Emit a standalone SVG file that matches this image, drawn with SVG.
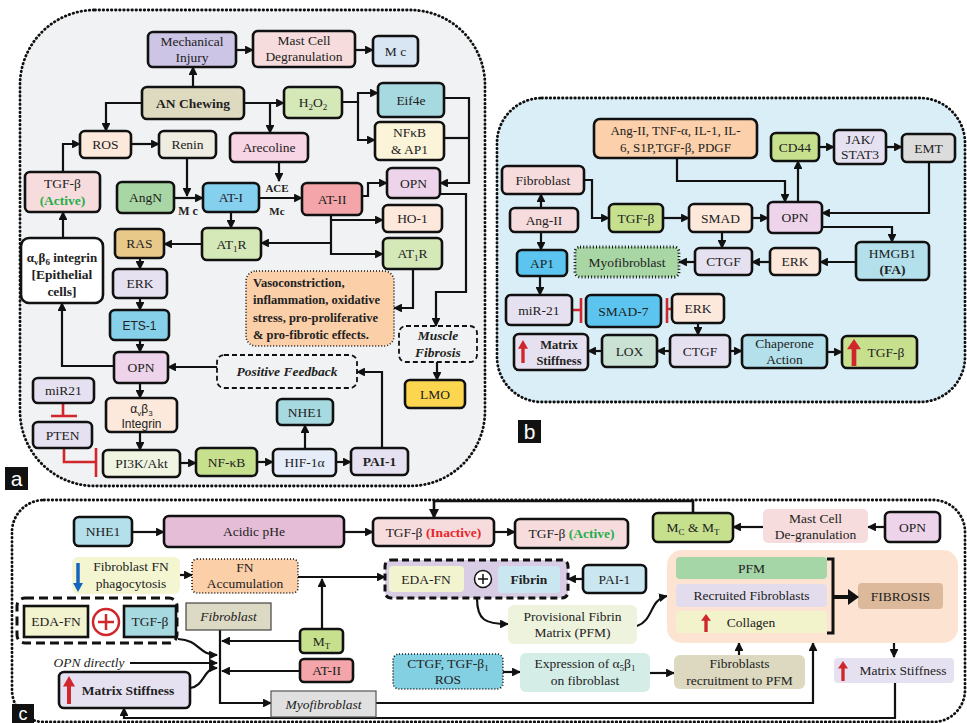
<svg xmlns="http://www.w3.org/2000/svg" width="967" height="723" viewBox="0 0 967 723">
<defs>
<style>
text{font-family:"Liberation Serif","Times New Roman","DejaVu Serif",serif;font-size:13.5px;fill:#222;text-anchor:middle}
.b{font-weight:bold}
.i{font-style:italic}
.s{font-family:"Liberation Sans",Arial,sans-serif}
.bx{stroke:#111;stroke-width:2.6}
.dt{stroke:#111;stroke-width:1.6;stroke-dasharray:1 2}
.ds{stroke:#111;stroke-width:1.8;stroke-dasharray:5 3;fill:none}
.pnl{stroke:#111;stroke-width:2.8;stroke-dasharray:0.5 3.6;stroke-linecap:round}
.c path{fill:none;stroke:#111;stroke-width:2.2}
.c path.a{marker-end:url(#ah)}
.c path.r{stroke:#d0262c;stroke-width:2.6}
.lbl text{font-family:"Liberation Sans",Arial,sans-serif;font-size:21px;fill:#fff}
</style>
<marker id="ah" viewBox="0 0 10 10" refX="9" refY="5" markerWidth="4" markerHeight="4" orient="auto"><path d="M0,0 L10,5 L0,10 z" fill="#111"/></marker>
<symbol id="up" viewBox="0 0 12 24" preserveAspectRatio="none"><path d="M6 0 L12 9 L8 9 L8 24 L4 24 L4 9 L0 9Z" fill="#d0262c"/></symbol>
</defs>

<!-- panels -->
<rect x="20" y="10" width="465" height="476" rx="75" fill="#f1f2f3" class="pnl"/>
<rect x="497" y="98" width="468" height="304" rx="45" fill="#d9eef6" class="pnl"/>
<rect x="12" y="500" width="953" height="222" rx="32" fill="#ffffff" class="pnl"/>
<g class="lbl">
<rect x="5" y="467" width="23" height="23" fill="#111"/><text x="16.5" y="486">a</text>
<rect x="518" y="420" width="23" height="23" fill="#111"/><text x="529.5" y="439">b</text>
<rect x="12" y="704" width="22" height="19" fill="#111"/><text x="23" y="720" style="font-size:18px">c</text>
</g>

<!-- ===== Panel a connectors ===== -->
<g class="c" id="conn-a">
<path class="a" d="M193 87 V67"/>
<path class="a" d="M236 50 H253"/>
<path class="a" d="M355 50 H373"/>
<path class="a" d="M142 103 H106 V131"/>
<path class="a" d="M244 103 H284"/>
<path class="a" d="M270 103 V133"/>
<path class="a" d="M342 102 H358 V93 H378"/>
<path class="a" d="M358 102 V140 H375"/>
<path class="a" d="M444 98 H469 V183 H440"/>
<path d="M444 138 H469"/>
<path class="a" d="M279 162 V181"/>
<path class="a" d="M259 198 H302"/>
<path class="a" d="M187 158 V196"/>
<path class="a" d="M174 198 H203"/>
<path class="a" d="M131 144 H159"/>
<path class="a" d="M63 172 V144 H80"/>
<path class="a" d="M63 238 V212"/>
<path class="a" d="M231 212 V228"/>
<path class="a" d="M202 244 H164"/>
<path class="a" d="M140 258 V269"/>
<path class="a" d="M140 298 V310"/>
<path class="a" d="M140 340 V352"/>
<path class="a" d="M114 366 H62 V303"/>
<path class="a" d="M140 383 V398"/>
<path class="a" d="M140 432 V450"/>
<path class="a" d="M180 463 H196"/>
<path class="a" d="M257 462 H273"/>
<path class="a" d="M336 462 H351"/>
<path class="a" d="M305 449 V425"/>
<path class="a" d="M382 448 V372 H357"/>
<path class="a" d="M217 367 H168"/>
<path class="a" d="M362 196 H368 V183 H387"/>
<path class="a" d="M440 194 H466 V292 H436 V326"/>
<path class="a" d="M331 215 V254 H383"/>
<path class="a" d="M331 220 H383"/>
<path class="a" d="M331 243 H261"/>
<path class="a" d="M413 269 V308 H394"/>
<path class="a" d="M437 362 V380"/>
<path class="r" d="M63 403 V416 M51 416 H77"/>
<path class="r" d="M64 448 V462 H96 M96 448 V477"/>
</g>

<!-- ===== Panel a nodes ===== -->
<g id="a-mech"><rect class="bx" x="148" y="32" width="88" height="35" rx="5" fill="#cdc5e6"/><text x="192" y="46">Mechanical</text><text x="192" y="62">Injury</text></g>
<g id="a-mast"><rect class="bx" x="253" y="31" width="102" height="36" rx="5" fill="#f6dcdc"/><text x="304" y="45">Mast Cell</text><text x="304" y="61">Degranulation</text></g>
<g id="a-mc"><rect class="bx" x="373" y="36" width="45" height="30" rx="5" fill="#d8e6f4"/><text x="395.5" y="55.5">M c</text></g>
<g id="a-an"><rect class="bx" x="142" y="87" width="102" height="32" rx="5" fill="#dedac0"/><text class="b" x="193" y="107.5">AN Chewing</text></g>
<g id="a-h2o2"><rect class="bx" x="284" y="87" width="58" height="31" rx="5" fill="#d5e8b8"/><text x="313" y="107">H<tspan font-size="9" dy="3">2</tspan><tspan dy="-3">O</tspan><tspan font-size="9" dy="3">2</tspan></text></g>
<g id="a-eif"><rect class="bx" x="378" y="83" width="66" height="34" rx="5" fill="#a6d9e0"/><text x="411" y="104.5">Eif4e</text></g>
<g id="a-nfkb"><rect class="bx" x="375" y="122" width="69" height="38" rx="5" fill="#fbf4d8"/><text x="409.5" y="137">NFκB</text><text x="409.5" y="154">&amp; AP1</text></g>
<g id="a-ros"><rect class="bx" x="80" y="131" width="51" height="27" rx="5" fill="#fde9dc"/><text x="105.5" y="149">ROS</text></g>
<g id="a-renin"><rect class="bx" x="159" y="131" width="57" height="27" rx="5" fill="#efede2"/><text x="187.5" y="149">Renin</text></g>
<g id="a-arec"><rect class="bx" x="230" y="133" width="78" height="29" rx="5" fill="#f8d5e4"/><text x="269" y="152">Arecoline</text></g>
<g id="a-opn1"><rect class="bx" x="387" y="168" width="53" height="30" rx="5" fill="#eed4ea"/><text x="413.5" y="187.5">OPN</text></g>
<g id="a-tgf"><rect class="bx" x="25" y="172" width="75" height="40" rx="5" fill="#f6dcdc"/><text x="62.5" y="188">TGF-β</text><text class="b" x="62.5" y="205" style="fill:#1fae4a">(Active)</text></g>
<g id="a-angn"><rect class="bx" x="117" y="182" width="57" height="31" rx="5" fill="#a8d6a4"/><text x="145.5" y="202">AngN</text></g>
<g id="a-at1"><rect class="bx" x="203" y="183" width="56" height="29" rx="5" fill="#86d0ef"/><text x="231" y="202">AT-I</text></g>
<g id="a-at2"><rect class="bx" x="302" y="183" width="60" height="32" rx="5" fill="#f4a5a9"/><text x="332" y="203.5">AT-II</text></g>
<g id="a-lbls"><text class="b" x="277" y="192" style="font-size:11px">ACE</text><text class="b" x="277" y="215" style="font-size:11px">Mc</text><text class="b" x="188" y="215" style="font-size:12px">M c</text></g>
<g id="a-ho1"><rect class="bx" x="383" y="205" width="59" height="27" rx="5" fill="#fde9dc"/><text x="412.5" y="223">HO-1</text></g>
<g id="a-at1r1"><rect class="bx" x="202" y="228" width="59" height="32" rx="5" fill="#d5e8b8"/><text x="231.5" y="248.5">AT<tspan font-size="9" dy="3">1</tspan><tspan dy="-3">R</tspan></text></g>
<g id="a-ras"><rect class="bx" x="115" y="229" width="49" height="29" rx="5" fill="#e8c98a"/><text x="139.5" y="248">RAS</text></g>
<g id="a-at1r2"><rect class="bx" x="383" y="238" width="59" height="31" rx="5" fill="#d5e8b8"/><text x="412.5" y="258">AT<tspan font-size="9" dy="3">1</tspan><tspan dy="-3">R</tspan></text></g>
<g id="a-avb6"><rect class="bx" x="21" y="238" width="82" height="65" rx="8" fill="#ffffff"/><text class="b" x="62" y="262" style="font-size:13px">α<tspan font-size="9" dy="3">v</tspan><tspan dy="-3">β</tspan><tspan font-size="9" dy="3">6</tspan><tspan dy="-3"> integrin</tspan></text><text class="b" x="62" y="279">[Epithelial</text><text class="b" x="62" y="296">cells]</text></g>
<g id="a-erk"><rect class="bx" x="113" y="269" width="54" height="29" rx="5" fill="#e6e1f0"/><text x="140" y="288">ERK</text></g>
<g id="a-vaso"><rect class="dt" x="246" y="271" width="148" height="75" rx="10" fill="#fbcfa8"/><text class="b" x="253" y="287" style="text-anchor:start;font-size:12.5px">Vasoconstriction,</text><text class="b" x="253" y="304" style="text-anchor:start;font-size:12.5px">inflammation, oxidative</text><text class="b" x="253" y="322" style="text-anchor:start;font-size:12.5px">stress, pro-proliferative</text><text class="b" x="253" y="339" style="text-anchor:start;font-size:12.5px">&amp; pro-fibrotic effects.</text></g>
<g id="a-ets"><rect class="bx" x="110" y="310" width="59" height="30" rx="5" fill="#86d0ea"/><text class="s" x="139.5" y="329.5" style="font-size:12px">ETS-1</text></g>
<g id="a-muscle"><rect class="ds" x="399" y="326" width="78" height="36" rx="7"/><text class="b i" x="438" y="340">Muscle</text><text class="b i" x="438" y="357">Fibrosis</text></g>
<g id="a-opn2"><rect class="bx" x="114" y="352" width="54" height="31" rx="5" fill="#eed4ea"/><text x="141" y="372">OPN</text></g>
<g id="a-pf"><rect class="ds" x="217" y="355" width="140" height="33" rx="7"/><text class="b i" x="287" y="376">Positive Feedback</text></g>
<g id="a-mir21"><rect class="bx" x="33" y="378" width="61" height="25" rx="5" fill="#e6e1f0"/><text x="63.5" y="395">miR21</text></g>
<g id="a-lmo"><rect class="bx" x="405" y="380" width="60" height="28" rx="5" fill="#fdd64f"/><text x="435" y="398.5">LMO</text></g>
<g id="a-avb3"><rect class="bx" x="106" y="398" width="71" height="34" rx="5" fill="#fde9dc"/><text class="s" x="141.5" y="413" style="font-size:12px">α<tspan font-size="8" dy="3">v</tspan><tspan dy="-3">β</tspan><tspan font-size="8" dy="3">3</tspan></text><text class="s" x="141.5" y="428" style="font-size:12px">Integrin</text></g>
<g id="a-nhe1"><rect class="bx" x="277" y="399" width="56" height="26" rx="5" fill="#a6d9e0"/><text x="305" y="416.5">NHE1</text></g>
<g id="a-pten"><rect class="bx" x="33" y="422" width="59" height="26" rx="5" fill="#e6e1f0"/><text x="62.5" y="439.5">PTEN</text></g>
<g id="a-pi3k"><rect class="bx" x="103" y="450" width="77" height="27" rx="5" fill="#eff5e1"/><text x="141.5" y="468">PI3K/Akt</text></g>
<g id="a-nfkb2"><rect class="bx" x="196" y="448" width="61" height="28" rx="5" fill="#c6e08e"/><text x="226.5" y="466.5">NF-κB</text></g>
<g id="a-hif"><rect class="bx" x="273" y="449" width="63" height="27" rx="5" fill="#e6edf8"/><text x="304.5" y="467">HIF-1α</text></g>
<g id="a-pai"><rect class="bx" x="351" y="448" width="57" height="27" rx="5" fill="#e6e1f0"/><text class="b" x="379.5" y="466">PAI-1</text></g>

<!-- ===== Panel b connectors ===== -->
<g class="c" id="conn-b">
<path class="a" d="M541 208 V194"/>
<path class="a" d="M541 232 V250"/>
<path class="a" d="M540 276 V295"/>
<path class="a" d="M584 180 H592 V218 H609"/>
<path class="a" d="M663 218 H689"/>
<path class="a" d="M752 218 H768"/>
<path class="a" d="M677 158 V181 H785 V202"/>
<path class="a" d="M798 202 V161"/>
<path class="a" d="M819 147 H834"/>
<path class="a" d="M886 147 H902"/>
<path class="a" d="M929 162 V213 H822"/>
<path class="a" d="M822 227 H892 V242"/>
<path class="a" d="M856 262 H820"/>
<path class="a" d="M770 262 H752"/>
<path class="a" d="M722 232 V248"/>
<path class="a" d="M695 262 H679"/>
<path class="r" d="M572 310 H581 M581 298 V323"/>
<path class="r" d="M672 309 H667 M667 298 V323"/>
<path class="a" d="M698 323 V335"/>
<path class="a" d="M670 351 H657"/>
<path class="a" d="M602 351 H588"/>
<path class="a" d="M730 351 H742"/>
<path class="a" d="M827 352 H842"/>
</g>

<!-- ===== Panel b nodes ===== -->
<g id="b-cyt"><rect class="bx" x="594" y="119" width="163" height="39" rx="6" fill="#fbd0aa"/><text x="675.5" y="135" style="font-size:13px">Ang-II, TNF-α, IL-1, IL-</text><text x="675.5" y="152" style="font-size:13px">6, S1P,TGF-β, PDGF</text></g>
<g id="b-cd44"><rect class="bx" x="771" y="133" width="48" height="28" rx="5" fill="#c6e08e"/><text x="795" y="151.5">CD44</text></g>
<g id="b-jak"><rect class="bx" x="834" y="130" width="52" height="34" rx="5" fill="#e6e1f0"/><text x="860" y="144">JAK/</text><text x="860" y="159">STAT3</text></g>
<g id="b-emt"><rect class="bx" x="902" y="134" width="53" height="28" rx="5" fill="#dcdcdc"/><text x="928.5" y="152.5">EMT</text></g>
<g id="b-fib"><rect class="bx" x="502" y="166" width="82" height="28" rx="5" fill="#f6dcdc"/><text x="543" y="184.5">Fibroblast</text></g>
<g id="b-ang"><rect class="bx" x="510" y="208" width="68" height="24" rx="5" fill="#f6dcdc"/><text x="544" y="224.5">Ang-II</text></g>
<g id="b-tgf"><rect class="bx" x="609" y="204" width="54" height="28" rx="5" fill="#c6e08e"/><text x="636" y="222.5">TGF-β</text></g>
<g id="b-smad"><rect class="bx" x="689" y="204" width="63" height="28" rx="5" fill="#fde9dc"/><text x="720.5" y="222.5">SMAD</text></g>
<g id="b-opn"><rect class="bx" x="768" y="202" width="54" height="31" rx="5" fill="#eed4ea"/><text x="795" y="222">OPN</text></g>
<g id="b-hmgb1"><rect class="bx" x="856" y="242" width="73" height="38" rx="5" fill="#b3e0eb"/><text x="892.5" y="258">HMGB1</text><text class="b" x="892.5" y="274">(FA)</text></g>
<g id="b-ap1"><rect class="bx" x="517" y="250" width="50" height="26" rx="5" fill="#5bc5ef"/><text x="542" y="267.5">AP1</text></g>
<g id="b-myo"><rect x="575" y="247" width="104" height="30" rx="5" fill="#a8d6a4" stroke="#111" stroke-width="2.8" stroke-dasharray="1 2.2"/><text x="627" y="266.5">Myofibroblast</text></g>
<g id="b-ctgf1"><rect class="bx" x="695" y="248" width="57" height="27" rx="5" fill="#e6e1f0"/><text x="723.5" y="266">CTGF</text></g>
<g id="b-erk1"><rect class="bx" x="770" y="248" width="50" height="27" rx="5" fill="#fde9dc"/><text x="795" y="266">ERK</text></g>
<g id="b-mir"><rect class="bx" x="506" y="295" width="66" height="30" rx="5" fill="#e6e1f0"/><text x="539" y="314.5">miR-21</text></g>
<g id="b-smad7"><rect class="bx" x="586" y="295" width="75" height="32" rx="5" fill="#5bc5ef"/><text x="623.5" y="315.5">SMAD-7</text></g>
<g id="b-erk2"><rect class="bx" x="672" y="294" width="52" height="29" rx="5" fill="#fde9dc"/><text x="698" y="313">ERK</text></g>
<g id="b-ms"><rect class="bx" x="514" y="334" width="74" height="36" rx="5" fill="#e6e1f0"/><use href="#up" x="518" y="340" width="10" height="23"/><text class="b" x="559" y="349" style="font-size:12.5px">Matrix</text><text class="b" x="559" y="365" style="font-size:12.5px">Stiffness</text></g>
<g id="b-lox"><rect class="bx" x="602" y="335" width="55" height="32" rx="5" fill="#c9e2d3"/><text x="629.5" y="355.5">LOX</text></g>
<g id="b-ctgf2"><rect class="bx" x="670" y="335" width="60" height="32" rx="5" fill="#e6e1f0"/><text x="700" y="355.5">CTGF</text></g>
<g id="b-chap"><rect class="bx" x="742" y="335" width="85" height="33" rx="5" fill="#b3e0eb"/><text x="784.5" y="348">Chaperone</text><text x="784.5" y="364">Action</text></g>
<g id="b-tgf2"><rect class="bx" x="842" y="336" width="75" height="32" rx="5" fill="#c6e08e"/><use href="#up" x="847" y="339" width="14" height="27"/><text x="886" y="357">TGF-β</text></g>

<!-- ===== Panel c connectors ===== -->
<g class="c" id="conn-c">
<path class="a" d="M132 532 H164"/>
<path class="a" d="M344 532 H373"/>
<path class="a" d="M494 532 H515"/>
<path class="a" d="M693 513 V501 H434 V518" style="stroke-width:2.6"/>
<path class="a" d="M885 527 H868"/>
<path class="a" d="M763 527 H733"/>
<path class="a" d="M180 575 H192"/>
<path class="a" d="M298 577 H385"/>
<path class="a" d="M322 629 V579"/>
<path class="a" d="M583 579 H568"/>
<path class="a" d="M477 598 C477 620 485 624 508 624"/>
<path class="a" d="M637 626 C654 620 649 600 667 596"/>
<path class="a" d="M894 643 V657"/>
<path class="a" d="M895 683 V718 H124 V708"/>
<path class="a" d="M376 703 H813 V643"/>
<path class="a" d="M220 630 V703 H271"/>
<path class="a" d="M300 641 H222"/>
<path class="a" d="M300 671 H222"/>
<path class="a" d="M130 663 H217"/>
<path class="a" d="M178 639 C200 640 198 655 217 655"/>
<path class="a" d="M190 688 C205 686 203 668 217 668"/>
<path class="a" d="M503 672 H520"/>
<path class="a" d="M650 673 H674"/>
<path class="a" d="M739 655 V643"/>
</g>

<!-- ===== Panel c nodes ===== -->
<g id="c-nhe1"><rect class="bx" x="74" y="517" width="58" height="29" rx="5" fill="#b3e0eb"/><text x="103" y="536">NHE1</text></g>
<g id="c-acid"><rect class="bx" x="164" y="516" width="180" height="31" rx="5" fill="#e5bdd7"/><text x="254" y="536">Acidic pHe</text></g>
<g id="c-tgfi"><rect class="bx" x="373" y="518" width="121" height="28" rx="5" fill="#f6dcdc"/><text x="433.5" y="536.5">TGF-β <tspan class="b" style="fill:#e8262c">(Inactive)</tspan></text></g>
<g id="c-tgfa"><rect class="bx" x="515" y="519" width="113" height="29" rx="5" fill="#f6dcdc"/><text x="571.5" y="538">TGF-β <tspan class="b" style="fill:#1fae4a">(Active)</tspan></text></g>
<g id="c-mcmt"><rect class="bx" x="653" y="513" width="80" height="29" rx="5" fill="#c6e08e"/><text x="693" y="532">M<tspan font-size="9" dy="3">C</tspan><tspan dy="-3"> &amp; M</tspan><tspan font-size="9" dy="3">T</tspan></text></g>
<g id="c-mast"><rect x="763" y="509" width="105" height="34" rx="5" fill="#f6dcdc"/><text x="815.5" y="523">Mast Cell</text><text x="815.5" y="539">De-granulation</text></g>
<g id="c-opn"><rect class="bx" x="885" y="512" width="55" height="30" rx="5" fill="#eed4ea"/><text x="912.5" y="532">OPN</text></g>
<g id="c-phag"><rect x="72" y="557" width="108" height="37" rx="6" fill="#f4f6d2"/><path d="M78 563 V584" stroke="#1565c0" stroke-width="3.5"/><polygon points="73,583 83,583 78,592" fill="#1565c0"/><text x="131" y="571">Fibroblast FN</text><text x="131" y="588">phagocytosis</text></g>
<g id="c-fnacc"><rect class="dt" x="192" y="559" width="106" height="34" rx="5" fill="#fbcfa8"/><text x="245" y="572">FN</text><text x="245" y="588">Accumulation</text></g>
<g id="c-edafib"><rect x="385" y="560" width="183" height="38" rx="6" fill="#d8cde4" stroke="#111" stroke-width="3" stroke-dasharray="7 4"/><rect x="389" y="566" width="75" height="26" rx="4" fill="#f2f3cf"/><text x="426" y="583.5">EDA-FN</text><circle cx="483" cy="579" r="8.5" fill="#fff" stroke="#111" stroke-width="1.5"/><path d="M478 579 H488 M483 574 V584" stroke="#111" stroke-width="1.5"/><rect x="498" y="566" width="62" height="27" rx="4" fill="#cae7f1"/><text class="b" x="529" y="584">Fibrin</text></g>
<g id="c-pai"><rect class="bx" x="583" y="565" width="63" height="28" rx="5" fill="#cae7f1"/><text x="614.5" y="584">PAI-1</text></g>
<g id="c-big"><rect x="667" y="550" width="291" height="93" rx="15" fill="#fde4d2"/><rect x="676" y="557" width="151" height="22" rx="4" fill="#a5d6a7"/><text x="751.5" y="572.5">PFM</text><rect x="676" y="584" width="151" height="23" rx="4" fill="#e2dcec"/><text x="751.5" y="600">Recruited Fibroblasts</text><rect x="676" y="611" width="151" height="22" rx="4" fill="#f2f3ca"/><use href="#up" x="701" y="614" width="10" height="18"/><text x="751" y="627">Collagen</text></g>
<g id="c-fibrosis"><rect x="858" y="583" width="85" height="26" rx="4" fill="#dcb99a"/><text x="900.5" y="600.5">FIBROSIS</text></g>
<g class="c" id="conn-c2">
<path d="M827 559 H833 V633 H827" style="stroke-width:3"/>
<path d="M834 597 H849" style="stroke-width:4"/>
</g>
<polygon points="848,589 859,597 848,605" fill="#111"/>
<g id="c-combo"><rect x="17" y="598" width="160" height="45" rx="8" fill="none" stroke="#111" stroke-width="3" stroke-dasharray="9 5"/><rect class="bx" x="24" y="606" width="64" height="31" fill="#f2f3cf"/><text x="56" y="626">EDA-FN</text><circle cx="106" cy="622" r="13" fill="#fff" stroke="#d0262c" stroke-width="2.5"/><path d="M98 622 H114 M106 614 V630" stroke="#d0262c" stroke-width="2.5"/><rect class="bx" x="124" y="606" width="52" height="31" fill="#a6d9e0"/><text x="150" y="626">TGF-β</text></g>
<g id="c-fib"><rect x="186" y="603" width="85" height="27" fill="#dcd9c4" stroke="#444" stroke-width="1.2"/><text class="i" x="228.5" y="621">Fibroblast</text></g>
<g id="c-pfm"><rect x="508" y="605" width="129" height="39" rx="6" fill="#eef3dd"/><text x="572.5" y="621">Provisional  Fibrin</text><text x="572.5" y="637">Matrix (PFM)</text></g>
<g id="c-mt"><rect class="bx" x="300" y="629" width="43" height="24" rx="4" fill="#c6e08e"/><text x="321.5" y="645.5">M<tspan font-size="9" dy="3">T</tspan></text></g>
<g id="c-ctgf"><rect class="dt" x="393" y="654" width="110" height="35" rx="6" fill="#82d0e2"/><text x="448" y="668">CTGF, TGF-β<tspan font-size="9" dy="3">1</tspan></text><text x="448" y="684">ROS</text></g>
<g id="c-expr"><rect x="520" y="653" width="130" height="39" rx="6" fill="#d5ede7"/><text x="585" y="668">Expression of α<tspan font-size="9" dy="3">5</tspan><tspan dy="-3">β</tspan><tspan font-size="9" dy="3">1</tspan></text><text x="585" y="685">on  fibroblast</text></g>
<g id="c-recr"><rect x="674" y="655" width="131" height="34" rx="6" fill="#dcd9c0"/><text x="739.5" y="668">Fibroblasts</text><text x="739.5" y="685">recruitment to PFM</text></g>
<g id="c-ms2"><rect x="834" y="658" width="120" height="25" rx="4" fill="#e6e1f0"/><use href="#up" x="838" y="661" width="10" height="20"/><text x="903" y="675">Matrix Stiffness</text></g>
<g id="c-at2"><rect class="bx" x="300" y="659" width="53" height="23" rx="4" fill="#f4a5a9"/><text x="326.5" y="675">AT-II</text></g>
<g id="c-opnd"><text class="i" x="89" y="667">OPN directly</text></g>
<g id="c-ms1"><rect class="bx" x="59" y="672" width="131" height="36" rx="5" fill="#e6e1f0"/><use href="#up" x="63" y="676" width="12" height="28"/><text class="b" x="128" y="695">Matrix  Stiffness</text></g>
<g id="c-myo"><rect x="271" y="691" width="105" height="26" fill="#e0e0e0" stroke="#555" stroke-width="1.2"/><text class="i" x="323.5" y="709">Myofibroblast</text></g>
</svg>
